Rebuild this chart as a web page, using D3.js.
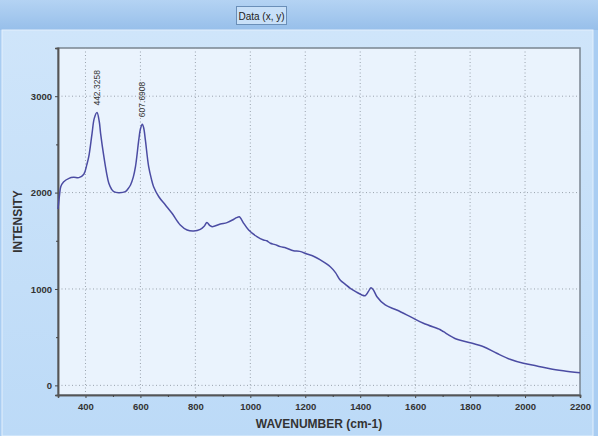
<!DOCTYPE html>
<html>
<head>
<meta charset="utf-8">
<script src="https://cdn.jsdelivr.net/npm/d3@7"></script>
<style>
  body { margin: 0; padding: 0; background: #a6c9ee; }
  svg { display: block; }
</style>
</head>
<body>
<svg id="chart"></svg>
<script>
// spectrum
const wavenumber = [300, 305, 310, 320, 340, 357, 376, 394, 405, 412, 424, 432, 442, 450, 455, 467, 477, 485, 495, 503,
  521, 545, 555, 564, 574, 582, 594, 600, 607, 612, 618, 630, 640, 648, 667, 691, 715, 745, 770, 794,
  818, 832, 842, 852, 861, 891, 915, 940, 950, 960, 968, 976, 994, 1024, 1048, 1060, 1073, 1090, 1109, 1130,
  1157, 1180, 1206, 1230, 1255, 1291, 1310, 1327, 1345, 1364, 1385, 1406, 1418, 1430, 1439, 1448, 1461, 1491, 1533, 1582,
  1630, 1679, 1690, 1703, 1752, 1800, 1849, 1897, 1945, 1994, 2043, 2091, 2139, 2200];
const intensity = [1830, 1960, 2060, 2110, 2148, 2158, 2155, 2190, 2290, 2372, 2615, 2770, 2830, 2740, 2615, 2372, 2200, 2096, 2035, 2010,
  1999, 2010, 2040, 2079, 2160, 2269, 2546, 2660, 2710, 2670, 2546, 2269, 2140, 2061, 1957, 1871, 1785, 1664, 1612, 1602,
  1619, 1650, 1690, 1660, 1646, 1674, 1688, 1723, 1740, 1750, 1720, 1681, 1612, 1543, 1508, 1500, 1474, 1460, 1439, 1425,
  1397, 1390, 1363, 1340, 1301, 1231, 1170, 1093, 1050, 1007, 970, 938, 930, 975, 1013, 990, 920, 834, 782, 713,
  644, 592, 580, 557, 478, 443, 401, 333, 271, 229, 201, 173, 152, 130];
const peakLabels = ["442.3258", "607.6908"];
const peakX = [442, 607];
const peakY = [2830, 2710];
const xTicks = [400, 600, 800, 1000, 1200, 1400, 1600, 1800, 2000, 2200];
const yTicks = [0, 1000, 2000, 3000];

const W = 598, H = 436;
const m = { left: 58, right: 18, top: 48, bottom: 41 };

const svg = d3.select("#chart").attr("width", W).attr("height", H);

// window-like frame
const defs = svg.append("defs");
const g1 = defs.append("linearGradient").attr("id", "band").attr("x1", 0).attr("y1", 0).attr("x2", 0).attr("y2", 1);
g1.append("stop").attr("offset", "0%").attr("stop-color", "#b4d3f3");
g1.append("stop").attr("offset", "100%").attr("stop-color", "#97bfea");
const g2 = defs.append("linearGradient").attr("id", "panel").attr("x1", 0).attr("y1", 0).attr("x2", 0).attr("y2", 1);
g2.append("stop").attr("offset", "0%").attr("stop-color", "#cfe5fa");
g2.append("stop").attr("offset", "100%").attr("stop-color", "#bcdaf7");

svg.append("rect").attr("width", W).attr("height", H).attr("fill", "#a9cdf2");
svg.append("rect").attr("width", W).attr("height", 30).attr("fill", "url(#band)");
svg.append("rect").attr("x", 2).attr("y", 30).attr("width", 591).attr("height", H - 30)
    .attr("fill", "url(#panel)").attr("stroke", "#e3f0fc").attr("stroke-width", 1);

// title box
svg.append("rect").attr("x", 236.5).attr("y", 6.5).attr("width", 50).attr("height", 18)
    .attr("fill", "#c8e0f8").attr("stroke", "#6a8fb8");
svg.append("text").attr("x", 261.5).attr("y", 19.5).attr("text-anchor", "middle")
    .style("font-family", "Liberation Sans, Arial, sans-serif").style("font-size", "10px").attr("fill", "#222")
    .text("Data (x, y)");

const x = d3.scaleLinear().domain([300, 2200]).range([m.left, W - m.right]);
const y = d3.scaleLinear().domain([-100, 3500]).range([H - m.bottom, m.top]);

// plot area
svg.append("rect").attr("x", m.left).attr("y", m.top)
    .attr("width", x.range()[1] - m.left).attr("height", y.range()[0] - m.top)
    .attr("fill", "#eaf3fd").attr("stroke", "#7a8590").attr("stroke-width", 1.5);

// grid
const grid = svg.append("g").attr("stroke", "#9aa3ad").attr("stroke-width", 1).attr("stroke-dasharray", "1,2.5");
grid.selectAll(".gx").data(xTicks.slice(0, -1)).join("line")
    .attr("x1", d => x(d)).attr("x2", d => x(d)).attr("y1", m.top).attr("y2", y.range()[0]);
grid.selectAll(".gy").data(yTicks).join("line")
    .attr("x1", m.left).attr("x2", x.range()[1]).attr("y1", d => y(d)).attr("y2", d => y(d));

// axes
const font = "Liberation Sans, Arial, sans-serif";
const fmt = d3.format("d");
const xAxis = svg.append("g").attr("transform", `translate(0,${y.range()[0]})`)
    .call(d3.axisBottom(x).tickValues(xTicks).tickFormat(fmt).tickSize(3).tickPadding(5));
const xMinor = svg.append("g").attr("transform", `translate(0,${y.range()[0]})`)
    .call(d3.axisBottom(x).tickValues(d3.range(300, 2200, 200).slice(1)).tickSize(2).tickFormat(""));
const yAxis = svg.append("g").attr("transform", `translate(${m.left},0)`)
    .call(d3.axisLeft(y).tickValues(yTicks).tickFormat(fmt).tickSize(3).tickPadding(3));
const yMinor = svg.append("g").attr("transform", `translate(${m.left},0)`)
    .call(d3.axisLeft(y).tickValues([500, 1500, 2500]).tickSize(2).tickFormat(""));

[xAxis, xMinor, yAxis, yMinor].forEach(a => {
  a.select(".domain").attr("stroke", "#555").attr("stroke-width", 1.5);
  a.selectAll(".tick line").attr("stroke", "#444");
  a.selectAll("text").style("font-family", font).style("font-size", "9.5px")
      .style("font-weight", "bold").attr("fill", "#333");
});

// spectrum
const pts = wavenumber.map((w, i) => [w, intensity[i]]);
const line = d3.line().x(d => x(d[0])).y(d => y(d[1])).curve(d3.curveCatmullRom.alpha(0.5));
svg.append("path").datum(pts).attr("d", line)
    .attr("fill", "none").attr("stroke", "#4b4ca3").attr("stroke-width", 1.5);

// peak labels
peakLabels.forEach((t, i) => {
  svg.append("text")
      .attr("transform", `translate(${x(peakX[i]) + 3},${y(peakY[i]) - 7}) rotate(-90)`)
      .style("font-family", font).style("font-size", "8.5px").attr("fill", "#333")
      .text(t);
});

// axis titles
svg.append("text").attr("x", (m.left + x.range()[1]) / 2).attr("y", 428).attr("text-anchor", "middle")
    .style("font-family", font).style("font-size", "12px").style("font-weight", "bold").attr("fill", "#333")
    .text("WAVENUMBER (cm-1)");
svg.append("text").attr("transform", `translate(22,${(m.top + y.range()[0]) / 2}) rotate(-90)`)
    .attr("text-anchor", "middle")
    .style("font-family", font).style("font-size", "12px").style("font-weight", "bold").attr("fill", "#333")
    .text("INTENSITY");
</script>
</body>
</html>
